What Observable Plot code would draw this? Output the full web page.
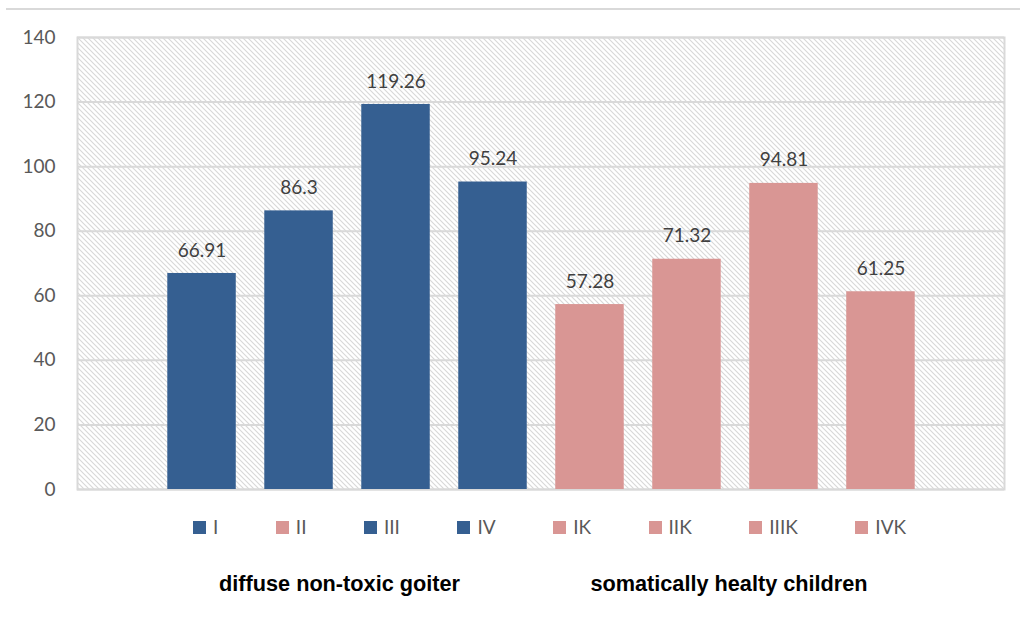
<!DOCTYPE html>
<html>
<head>
<meta charset="utf-8">
<script src="https://cdn.jsdelivr.net/npm/d3@7"></script>
<script src="https://cdn.jsdelivr.net/npm/@observablehq/plot@0.6"></script>
<style>
  body { margin: 0; background: #fff; font-family: Lato, "Open Sans", sans-serif; }
  #wrap { position: relative; width: 1020px; height: 628px; overflow: hidden; }
  #topline { position: absolute; left: 6px; right: 0; top: 7.5px; height: 2px; background: #d9d9d9; }
  #chart { position: absolute; left: 0; top: 0; }
  #legend { position: absolute; top: 516px; left: 193px; display: flex; align-items: center; gap: 57.5px;
            font-size: 19px; line-height: 22px; color: #595959; }
  .item { display: flex; align-items: center; }
  .sw { width: 13px; height: 13px; margin-right: 7px; }
  .group { position: absolute; top: 571px; width: 400px; text-align: center;
           font: bold 21.7px "Liberation Sans", Arial, sans-serif; color: #000; }
</style>
</head>
<body>
<div id="wrap">
  <div id="topline"></div>
  <div id="chart"></div>
  <div id="legend"></div>
  <div id="groups"></div>
</div>
<script>
// Bar categories and their values
const categories = ["I", "II", "III", "IV", "IK", "IIK", "IIIK", "IVK"];
const values = [66.91, 86.3, 119.26, 95.24, 57.28, 71.32, 94.81, 61.25];
const groupOf = ["diffuse non-toxic goiter", "diffuse non-toxic goiter", "diffuse non-toxic goiter", "diffuse non-toxic goiter",
                 "somatically healty children", "somatically healty children", "somatically healty children", "somatically healty children"];
const groupNames = ["diffuse non-toxic goiter", "somatically healty children"];
const groupColors = ["#355f91", "#d99694"];
// Legend swatches as they appear in the key
const legendColors = ["#355f91", "#d99694", "#355f91", "#355f91", "#d99694", "#d99694", "#d99694", "#d99694"];
const yTicks = [0, 20, 40, 60, 80, 100, 120, 140];
const groupCenters = [339.5, 729];

const data = categories.map((c, i) => ({cat: c, value: values[i], group: groupOf[i]}));

// Diagonal hatch background of the plotting area
function hatch(index, scales, values, dims) {
  const {marginLeft, marginTop, marginRight, marginBottom, width, height} = dims;
  const g = d3.create("svg:g");
  const pat = g.append("defs").append("pattern")
    .attr("id", "hatch").attr("patternUnits", "userSpaceOnUse")
    .attr("width", 5).attr("height", 5);
  pat.append("rect").attr("width", 5).attr("height", 5).attr("fill", "#fff");
  pat.append("path").attr("d", "M-1,-1L6,6M-1,4L1,6M4,-1L6,1")
    .attr("stroke", "#d8d8d8").attr("stroke-width", 1.1);
  g.append("rect")
    .attr("x", marginLeft).attr("y", marginTop)
    .attr("width", width - marginLeft - marginRight)
    .attr("height", height - marginTop - marginBottom)
    .attr("fill", "url(#hatch)");
  return g.node();
}

const chart = Plot.plot({
  width: 1020,
  height: 500,
  marginTop: 37,
  marginBottom: 11,
  marginLeft: 77,
  marginRight: 16,
  style: {fontFamily: "Lato, 'Open Sans', sans-serif", fontSize: "19px", background: "transparent"},
  x: {domain: categories, axis: null, round: false, paddingInner: 0.294, paddingOuter: 0.137, insetLeft: 77, insetRight: 76},
  y: {domain: [0, 140]},
  color: {domain: groupNames, range: groupColors},
  marks: [
    hatch,
    Plot.gridY(yTicks, {stroke: "#d9d9d9", strokeOpacity: 1, strokeWidth: 2}),
    Plot.frame({stroke: "#d9d9d9", strokeWidth: 2}),
    Plot.barY(data, {x: "cat", y: "value", fill: "group"}),
    Plot.text(data, {x: "cat", y: "value", text: d => String(d.value), dy: -23, fill: "#404040", fontSize: 19}),
    Plot.axisY({ticks: yTicks, tickSize: 0, tickPadding: 22, label: null, fill: "#595959", fontSize: 19})
  ]
});
document.getElementById("chart").appendChild(chart);

// Legend row
const legend = d3.select("#legend");
categories.forEach((c, i) => {
  const item = legend.append("div").attr("class", "item");
  item.append("div").attr("class", "sw").style("background", legendColors[i]);
  item.append("span").text(c);
});

// Group captions under the legend
const groups = d3.select("#groups");
groupNames.forEach((name, i) => {
  groups.append("div").attr("class", "group")
    .style("left", (groupCenters[i] - 200) + "px")
    .text(name);
});
</script>
</body>
</html>
